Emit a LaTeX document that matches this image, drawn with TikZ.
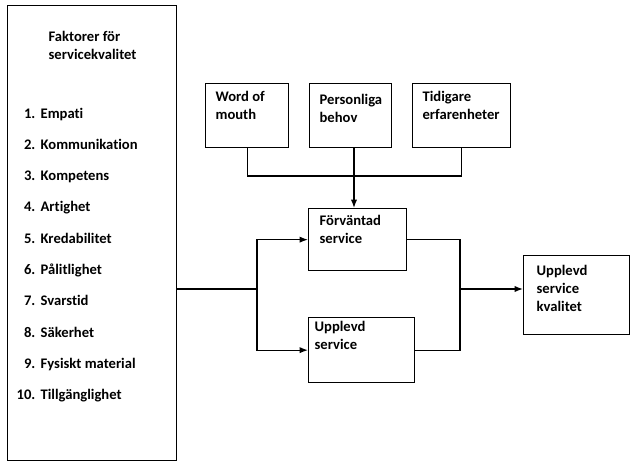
\documentclass[tikz,border=0pt]{standalone}
\usepackage{fontspec}
\setmainfont{Carlito}[Ligatures=CommonOff]
\usetikzlibrary{positioning,arrows.meta}
\newlength\px \setlength\px{0.025cm}

\begin{document}
\begin{tikzpicture}[x=0.025cm, y=-0.025cm, line width=0.9pt,
    font=\bfseries\fontsize{10.4}{12.5}\selectfont, >={Latex[length=6pt,width=4.5pt]},
    box/.style={draw, inner sep=0pt, anchor=north west},
    lbl/.style={anchor=north west, align=left, inner sep=0pt}]
    \useasboundingbox (0,0) rectangle (640,467);

    % Factors
    \node[box, minimum width=169\px, minimum height=455\px] (fac) at (7,5) {};
    \node[lbl] (fac-t) at (48,31) {Faktorer för\\servicekvalitet};
    \foreach \txt [count=\i] in {Empati, Kommunikation, Kompetens, Artighet,
        Kredabilitet, Pålitlighet, Svarstid, Säkerhet, Fysiskt material, Tillgänglighet} {
        \node[anchor=base east, inner sep=0pt] (num\i) at (36, 86.7+31.3*\i) {\i.};
        \node[anchor=base west, inner sep=0pt] (item\i) at (40, 86.7+31.3*\i) {\txt};
    }

    % Expectation sources
    \node[box, minimum width=83\px, minimum height=64\px,
        label={[lbl, xshift=10\px, yshift=-8\px]north west:Word of\\mouth}] (wom) at (205,83) {};
    \node[box, minimum width=82\px, minimum height=64\px,
        label={[lbl, xshift=10\px, yshift=-11\px]north west:Personliga\\behov}] (pers) at (309,83) {};
    \node[box, minimum width=98\px, minimum height=64\px,
        label={[lbl, xshift=10\px, yshift=-8\px]north west:Tidigare\\erfarenheter}] (tid) at (412,83) {};

    % Service
    \node[box, minimum width=98\px, minimum height=62\px,
        label={[lbl, xshift=11\px, yshift=-7\px]north west:Förväntad\\service}] (exp) at (308,208) {};
    \node[box, minimum width=106\px, minimum height=65\px,
        label={[lbl, xshift=6\px, yshift=-4\px]north west:Upplevd\\service}] (perc) at (308,317) {};
    \node[box, minimum width=106\px, minimum height=79\px,
        label={[lbl, xshift=13\px, yshift=-10\px]north west:Upplevd\\service\\kvalitet}] (uq) at (523,255) {};

    \coordinate (merge) at (354,176);
    \coordinate (split) at (257,289);
    \coordinate (join) at (460,289);

    % Connectors
    \draw (wom.south) |- (merge);
    \draw (tid.south) |- (merge);
    \draw (pers.south -| merge) -- (merge);
    \draw[->] (merge) -- (merge |- exp.north);
    \draw (fac.east |- split) -- (split);
    \draw[->] (split) |- (exp.west);
    \draw[->] (split) |- (perc.west);
    \draw (exp.east) -| (join);
    \draw (perc.east) -| (join);
    \draw[->] (join) -- (join -| uq.west);
\end{tikzpicture}
\end{document}
